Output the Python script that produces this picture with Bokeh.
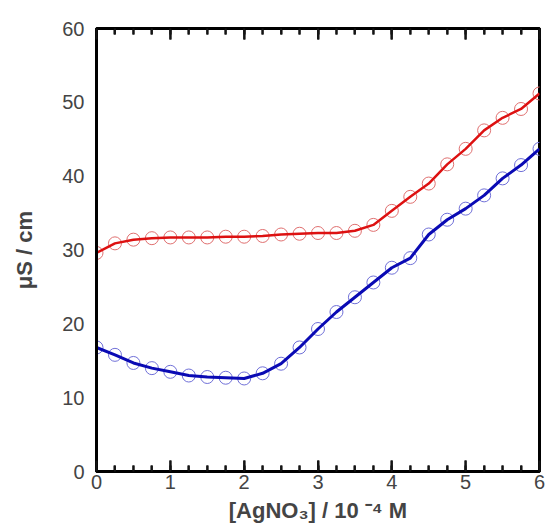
from bokeh.plotting import figure
from bokeh.models import (LinearAxis, FixedTicker, ColumnDataSource, SingleIntervalTicker,
                          CustomJSTickFormatter)
from bokeh.embed import file_html
from bokeh.resources import INLINE

# Data
conc = [0, 0.25, 0.5, 0.75, 1.0, 1.25, 1.5, 1.75, 2.0, 2.25, 2.5, 2.75, 3.0,
        3.25, 3.5, 3.75, 4.0, 4.25, 4.5, 4.75, 5.0, 5.25, 5.5, 5.75, 6.0]
red_series = [29.6, 30.9, 31.4, 31.6, 31.7, 31.7, 31.7, 31.8, 31.8, 31.9, 32.1, 32.2, 32.3,
              32.3, 32.6, 33.4, 35.3, 37.2, 39.0, 41.6, 43.7, 46.2, 47.9, 49.1, 51.2]
blue_series = [16.8, 15.8, 14.7, 14.0, 13.5, 13.0, 12.8, 12.7, 12.6, 13.3, 14.6, 16.8, 19.3,
               21.6, 23.6, 25.6, 27.6, 28.9, 32.1, 34.1, 35.6, 37.4, 39.7, 41.5, 43.7]
y_ticks = [0, 10, 20, 30, 40, 50, 60]
x_major_ticks = [0, 1, 2, 3, 4, 5, 6]
x_minor_ticks = [0.25, 0.5, 0.75, 1.25, 1.5, 1.75, 2.25, 2.5, 2.75, 3.25, 3.5, 3.75,
                 4.25, 4.5, 4.75, 5.25, 5.5, 5.75]
Y_MIN, Y_MAX = 0, 60

FRAME_H = 443  # plot-frame height in px (532 - 28 - 61)
PX = (Y_MAX - Y_MIN) / FRAME_H  # data units per pixel
MAJOR_LEN = 11 * PX
MINOR_LEN = 6 * PX

src = ColumnDataSource(dict(x=conc, red=red_series, blue=blue_series))

p = figure(width=546, height=532, x_range=(0, 6), y_range=(Y_MIN, Y_MAX),
           output_backend="svg", toolbar_location=None,
           x_axis_location=None, y_axis_location=None,
           min_border_left=96, min_border_right=7, min_border_top=28, min_border_bottom=61)
p.grid.visible = False
p.outline_line_color = "black"
p.outline_line_width = 3
p.background_fill_color = "white"
p.border_fill_color = "white"

FONT = "Liberation Sans"

# bottom axis with inward ticks
xb = LinearAxis(ticker=SingleIntervalTicker(interval=1, num_minor_ticks=4))
xb.axis_label = "[AgNO\u2083] / 10 \u207b\u2074 M"
xb.axis_label_text_font = FONT
xb.axis_label_text_font_style = "bold"
xb.axis_label_text_font_size = "22px"
xb.axis_label_standoff = 6
xb.major_label_text_font = FONT
xb.major_label_text_font_size = "20px"
xb.major_label_standoff = 3
xb.axis_line_width = 3
xb.major_tick_in = 11
xb.major_tick_out = 0
xb.minor_tick_in = 6
xb.minor_tick_out = 0
xb.major_tick_line_width = 2
xb.minor_tick_line_width = 2
p.add_layout(xb, "below")

# top axis: inward ticks only, empty labels
xt = LinearAxis(ticker=SingleIntervalTicker(interval=1, num_minor_ticks=4),
                formatter=CustomJSTickFormatter(code="return ' ';"))
xt.major_label_text_font_size = "2px"
xt.major_label_standoff = 0
xt.axis_line_width = 3
xt.major_tick_in = 11
xt.major_tick_out = 0
xt.minor_tick_in = 6
xt.minor_tick_out = 0
xt.major_tick_line_width = 2
xt.minor_tick_line_width = 2
p.add_layout(xt, "above")

# left axis (labels, no tick marks)
yl = LinearAxis(ticker=FixedTicker(ticks=y_ticks))
yl.axis_label = "\u03bcS / cm"
yl.axis_label_text_font = FONT
yl.axis_label_text_font_style = "bold"
yl.axis_label_text_font_size = "22px"
yl.axis_label_standoff = 22
yl.major_label_text_font = FONT
yl.major_label_text_font_size = "20px"
yl.major_label_standoff = 12
yl.axis_line_width = 3
yl.major_tick_line_color = None
yl.minor_tick_line_color = None
yl.major_tick_out = 0
yl.major_tick_in = 0
p.add_layout(yl, "left")

# inward tick marks also drawn as segments inside the frame
tick_x = x_major_ticks * 2 + x_minor_ticks * 2
tick_y0 = ([Y_MIN] * len(x_major_ticks) + [Y_MAX] * len(x_major_ticks)
           + [Y_MIN] * len(x_minor_ticks) + [Y_MAX] * len(x_minor_ticks))
tick_y1 = ([Y_MIN + MAJOR_LEN] * len(x_major_ticks) + [Y_MAX - MAJOR_LEN] * len(x_major_ticks)
           + [Y_MIN + MINOR_LEN] * len(x_minor_ticks) + [Y_MAX - MINOR_LEN] * len(x_minor_ticks))
tick_src = ColumnDataSource(dict(x=tick_x, y0=tick_y0, y1=tick_y1))
p.segment(x0="x", y0="y0", x1="x", y1="y1", source=tick_src,
          line_color="#141414", line_width=2, level="overlay")

# series
p.scatter("x", "red", source=src, marker="circle", size=13, fill_color=None,
          line_color="#e07070", line_width=1)
p.scatter("x", "blue", source=src, marker="circle", size=13, fill_color=None,
          line_color="#7070d8", line_width=1)
p.line("x", "red", source=src, line_color="#dd1111", line_width=2.5)
p.line("x", "blue", source=src, line_color="#0a0ab4", line_width=3)

open("out.html", "w").write(file_html(p, INLINE))
